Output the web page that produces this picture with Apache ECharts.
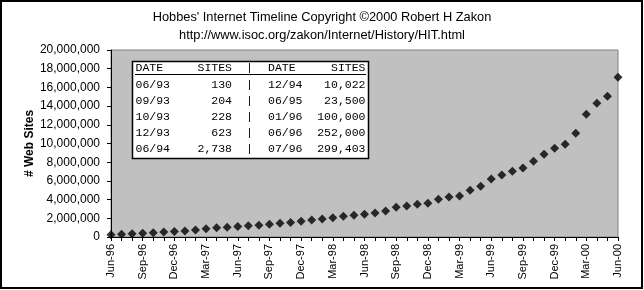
<!DOCTYPE html>
<html>
<head>
<meta charset="utf-8">
<script src="https://cdn.jsdelivr.net/npm/echarts@6/dist/echarts.min.js"></script>
<style>
html,body{margin:0;padding:0;background:#fff;}
#chart{width:644px;height:290px;}
</style>
</head>
<body>
<div id="chart"></div>
<script>
var months = ["Jun-96","Jul-96","Aug-96","Sep-96","Oct-96","Nov-96","Dec-96",
  "Jan-97","Feb-97","Mar-97","Apr-97","May-97","Jun-97","Jul-97","Aug-97","Sep-97","Oct-97","Nov-97","Dec-97",
  "Jan-98","Feb-98","Mar-98","Apr-98","May-98","Jun-98","Jul-98","Aug-98","Sep-98","Oct-98","Nov-98","Dec-98",
  "Jan-99","Feb-99","Mar-99","Apr-99","May-99","Jun-99","Jul-99","Aug-99","Sep-99","Oct-99","Nov-99","Dec-99",
  "Jan-00","Feb-00","Mar-00","Apr-00","May-00","Jun-00"];
var webSites = [252000,299403,340000,397000,460000,530000,600000,
  650000,740000,880000,1000000,1040000,1120000,1200000,1270000,1370000,1470000,1560000,1690000,
  1830000,1930000,2070000,2220000,2320000,2420000,2560000,2780000,3180000,3320000,3500000,3620000,
  4040000,4280000,4380000,4990000,5420000,6190000,6620000,7030000,7380000,8100000,8840000,9490000,
  9910000,11090000,13120000,14300000,15050000,17080000];

var tableHeader = ["DATE","SITES","|","DATE","SITES"];
var tableDates1 = ["06/93","09/93","10/93","12/93","06/94"];
var tableSites1 = ["130","204","228","623","2,738"];
var tableDates2 = ["12/94","06/95","01/96","06/96","07/96"];
var tableSites2 = ["10,022","23,500","100,000","252,000","299,403"];

var titleLines = ["Hobbes' Internet Timeline Copyright \u00A92000 Robert H Zakon",
  "http://www.isoc.org/zakon/Internet/History/HIT.html"];
var yAxisTitle = "# Web Sites";

var chart = echarts.init(document.getElementById('chart'), null, {renderer:'canvas'});
var mono = '"Liberation Mono", "Courier New", monospace';
var sans = '"Liberation Sans", Arial, sans-serif';

var graphics = [];
// outer frame
graphics.push({type:'rect', shape:{x:1,y:1,width:641,height:287}, style:{fill:null, stroke:'#000', lineWidth:2}, z:100});
// table box
graphics.push({type:'rect', shape:{x:132.5,y:61.5,width:236,height:97}, style:{fill:'#fff', stroke:'#000', lineWidth:1.5}, z:50});
graphics.push({type:'line', shape:{x1:135,y1:74.5,x2:366,y2:74.5}, style:{stroke:'#000', lineWidth:1}, z:51});
var rowY = [68, 84.5, 100.5, 116.5, 132.5, 148.5];
function cell(txt, x, y, align){
  graphics.push({type:'text', x:x, y:y, z:52, style:{text:txt, fill:'#000', font:'11.5px ' + mono, textAlign:align, textVerticalAlign:'middle'}});
}
cell(tableHeader[0], 135.5, rowY[0], 'left');
cell(tableHeader[1], 232, rowY[0], 'right');
cell(tableHeader[2], 249.5, rowY[0], 'center');
cell(tableHeader[3], 268, rowY[0], 'left');
cell(tableHeader[4], 365.5, rowY[0], 'right');
for (var i = 0; i < tableDates1.length; i++){
  var y = rowY[i+1];
  cell(tableDates1[i], 135.5, y, 'left');
  cell(tableSites1[i], 232, y, 'right');
  cell('|', 249.5, y, 'center');
  cell(tableDates2[i], 268, y, 'left');
  cell(tableSites2[i], 365.5, y, 'right');
}
// titles
graphics.push({type:'text', x:322, y:17, z:52, style:{text:titleLines[0], fill:'#000', font:'12.8px ' + sans, textAlign:'center', textVerticalAlign:'middle'}});
graphics.push({type:'text', x:322, y:35, z:52, style:{text:titleLines[1], fill:'#000', font:'12.8px ' + sans, textAlign:'center', textVerticalAlign:'middle'}});
// y axis title
graphics.push({type:'text', x:30, y:143.5, rotation:Math.PI/2, z:52, style:{text:yAxisTitle, fill:'#000', font:'bold 12px ' + sans, textAlign:'center', textVerticalAlign:'middle'}});

var option = {
  animation:false,
  backgroundColor:'#fff',
  grid:{left:111, top:50, width:507, height:187, show:true, backgroundColor:'#c0c0c0', borderColor:'#808080', borderWidth:1},
  xAxis:{
    type:'category', data:months, boundaryGap:false,
    axisLine:{show:true, lineStyle:{color:'#000', width:1}},
    axisTick:{show:true, interval:0, length:4, lineStyle:{color:'#000'}},
    axisLabel:{interval:2, rotate:90, margin:7, color:'#000', fontSize:11, fontFamily:sans},
    splitLine:{show:false}
  },
  yAxis:{
    type:'value', min:0, max:20000000, interval:2000000,
    axisLine:{show:true, lineStyle:{color:'#000', width:1}},
    axisTick:{show:true, length:4, lineStyle:{color:'#000'}},
    axisLabel:{margin:11, color:'#000', fontSize:12, fontFamily:sans,
      formatter:function(v){ return v.toString().replace(/\B(?=(\d{3})+(?!\d))/g, ','); }},
    splitLine:{show:false}
  },
  series:[{
    type:'scatter', data:webSites, symbol:'diamond', symbolSize:9,
    itemStyle:{color:'#000'}, z:10
  }],
  graphic:graphics
};
chart.setOption(option);
</script>
</body>
</html>
